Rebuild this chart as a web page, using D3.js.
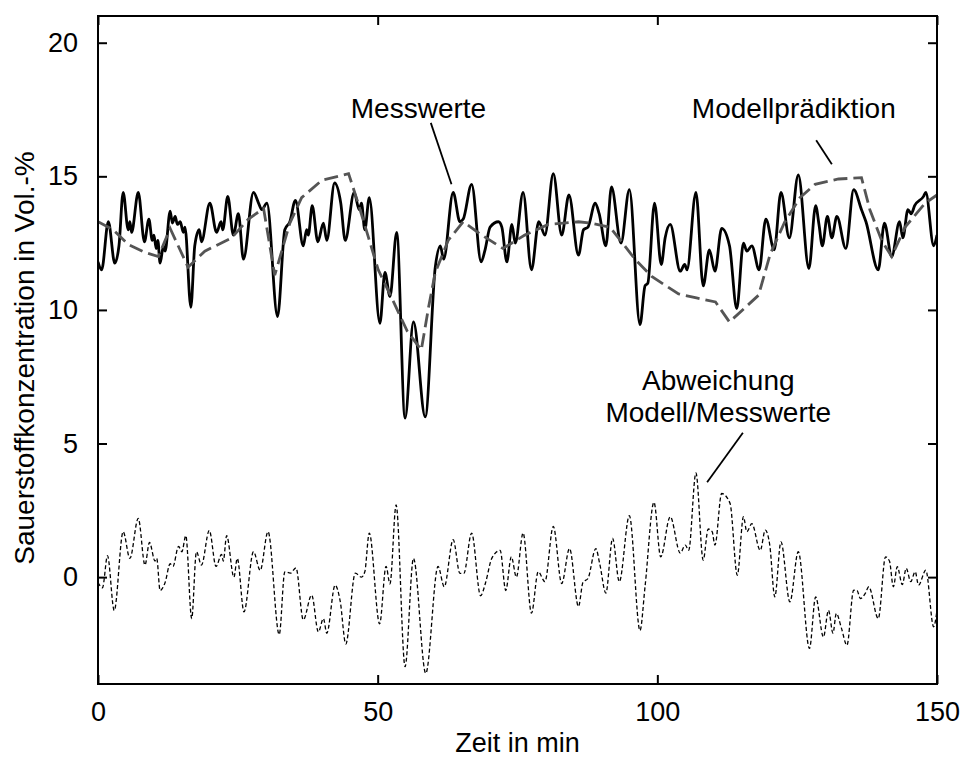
<!DOCTYPE html>
<html>
<head>
<meta charset="utf-8">
<script src="https://cdn.jsdelivr.net/npm/d3@7"></script>
<style>
  body { margin: 0; background: #fff; }
  svg text { font-family: "Liberation Sans", Arial, Helvetica, sans-serif; fill: #000; }
</style>
</head>
<body>
<svg id="chart" width="964" height="760"></svg>
<script>
// Messwerte (solid black line): time in min, O2 in Vol.-%
const measT = [0, 0.65, 1.85, 3.0, 3.75, 4.5, 5.4, 5.7, 6.0, 7.2, 8.3, 9.1, 9.7, 10.0, 10.4, 10.7, 11.1, 11.7, 12.0, 12.9,
  13.3, 13.8, 14.2, 14.7, 15.25, 15.55, 16.6, 17.3, 18.1, 18.5, 20.0, 21.2, 22.0, 22.3, 23.2, 24.2, 25.1, 26.0, 27.8, 28.7,
  29.3, 30.2, 32.1, 33.4, 34.3, 35.3, 36.7, 37.3, 37.6, 38.3, 39.3, 40.3, 40.9, 42.3, 43.4, 44.2, 45.8, 46.7, 47.1, 47.7,
  48.5, 50.4, 51.3, 52.2, 53.4, 54.9, 56.4, 58.5, 60.3, 61.2, 61.8, 63.5, 64.7, 65.3, 66.8, 68.5, 69.2, 70.1, 71.6, 72.2,
  73.1, 74.0, 74.6, 76.0, 77.5, 78.8, 79.9, 81.4, 82.9, 84.2, 85.9, 86.8, 87.6, 88.9, 89.6, 90.8, 91.8, 93.5, 95.0, 96.9,
  97.8, 98.3, 99.5, 100.7, 101.4, 102.3, 104.1, 104.9, 105.3, 106.9, 108.2, 109.3, 110.3, 111.5, 112.9, 114.2, 115.4, 116.0, 116.9, 118.2,
  119.4, 120.9, 122.1, 123.6, 125.2, 127.1, 128.3, 128.9, 129.5, 130.4, 131.2, 132.1, 133.7, 135.1, 136.5, 137.3, 139.5, 140.6, 141.9, 143.3,
  143.9, 144.8, 145.4, 146.0, 147.6, 148.0, 149.4, 150];
const measV = [11.8, 11.5, 13.3, 11.75, 12.4, 14.4, 13.0, 13.3, 12.9, 14.4, 12.55, 13.4, 12.6, 12.8, 12.3, 12.6, 11.75, 12.4, 12.2, 13.7,
  13.25, 13.5, 13.2, 13.3, 12.9, 13.1, 10.1, 12.4, 13.0, 12.55, 14.0, 12.9, 13.3, 13.0, 14.25, 12.8, 13.6, 11.9, 14.4, 14.0,
  13.75, 14.0, 9.75, 13.0, 13.3, 14.1, 12.4, 13.0, 12.8, 13.9, 12.55, 13.25, 12.6, 14.75, 14.0, 12.6, 14.4, 13.75, 14.0, 13.0,
  14.2, 9.5, 11.4, 10.5, 12.9, 5.95, 9.55, 6.0, 11.6, 12.4, 11.9, 14.4, 13.3, 13.4, 14.7, 11.8, 12.25, 13.1, 13.3, 13.1,
  11.8, 13.2, 12.5, 14.4, 11.5, 13.3, 12.8, 15.1, 12.8, 14.3, 12.05, 13.0, 13.1, 14.0, 13.6, 12.4, 14.6, 12.5, 14.5, 9.45,
  10.9, 11.0, 14.0, 11.7, 12.7, 13.2, 11.45, 11.7, 11.5, 14.4, 10.9, 12.25, 11.45, 13.05, 12.4, 10.05, 12.5, 12.2, 12.4, 11.5,
  13.4, 12.25, 14.4, 12.7, 15.05, 11.55, 13.9, 13.2, 12.4, 13.5, 12.7, 13.5, 12.3, 14.5, 13.75, 13.3, 11.5, 13.25, 12.0, 13.3,
  12.7, 13.75, 13.6, 13.9, 14.25, 14.4, 12.4, 12.8];

// Modellprädiktion (grey dashed line)
const modelT = [0, 2.7, 5.4, 8.4, 10.8, 12.9, 16.1, 19.1, 23.9, 26.9, 29.6, 31.6, 34.3, 36.4, 40.0, 44.8, 46.5, 48.3, 50.1, 52.4,
  55.3, 57.8, 59.1, 60.3, 62.6, 65.3, 68.6, 72.4, 76.3, 80.5, 85.9, 88.0, 91.5, 93.6, 96.0, 99.0, 103.8, 107.0, 110.4, 112.9,
  118.1, 120.2, 122.8, 125.5, 128.2, 132.4, 136.5, 138.0, 140.1, 141.9, 144.3, 147.9, 150];
const modelV = [13.3, 13.0, 12.45, 12.15, 12.0, 13.05, 11.6, 12.2, 12.7, 13.4, 13.8, 11.3, 13.25, 14.2, 14.85, 15.1, 14.0, 12.75, 11.5, 10.5,
  9.2, 8.5, 10.1, 11.4, 12.6, 13.3, 12.8, 12.3, 12.8, 13.2, 13.3, 13.25, 13.1, 12.55, 11.9, 11.25, 10.6, 10.45, 10.3, 9.55,
  10.55, 12.1, 13.3, 14.2, 14.7, 14.9, 14.95, 13.75, 12.6, 12.0, 13.1, 14.0, 14.3];

// Abweichung Modell/Messwerte (black dotted line)
const devT = [0, 0.8, 1.7, 2.9, 4.5, 5.7, 7.2, 8.4, 9.2, 10.2, 10.5, 11.1, 12.0, 12.9, 13.4, 14.4, 15.0, 15.7, 16.75, 17.6,
  18.5, 19.9, 21.1, 22.1, 22.4, 23.0, 24.3, 24.9, 26.1, 27.8, 29.0, 30.4, 32.4, 33.4, 34.4, 35.4, 36.7, 38.2, 39.4, 40.3,
  40.9, 42.4, 43.3, 44.3, 46.0, 47.1, 47.7, 48.5, 50.35, 51.5, 52.2, 53.3, 54.9, 56.4, 58.6, 60.8, 61.9, 63.5, 64.7, 65.4,
  66.8, 68.4, 69.3, 70.4, 71.9, 72.9, 73.9, 74.8, 76.0, 77.5, 78.7, 79.9, 81.4, 82.9, 84.3, 85.9, 86.7, 87.6, 89.0, 89.7,
  90.8, 92.0, 93.2, 95.0, 96.9, 97.8, 99.4, 100.6, 102.3, 104.1, 105.0, 105.6, 106.9, 108.2, 109.1, 109.8, 110.3, 111.5, 113.0, 114.3,
  115.4, 116.0, 116.9, 118.4, 119.3, 120.1, 121.0, 122.1, 123.7, 125.2, 127.2, 128.3, 129.7, 130.6, 131.4, 132.0, 132.9, 133.9, 135.1, 135.7,
  136.3, 137.2, 137.8, 139.5, 140.8, 141.5, 142.2, 142.9, 143.8, 144.5, 145.3, 146.1, 146.7, 148.0, 149.4, 150];
const devV = [-0.2, -0.4, 0.8, -1.25, 1.7, 0.7, 2.2, 0.45, 1.3, 0.6, 0.7, -0.5, -0.2, 0.5, 0.4, 1.15, 0.95, 1.55, -1.55, 0.95,
  0.45, 1.75, 0.4, 0.85, 0.6, 1.55, 0.0, 0.7, -1.3, 0.95, 0.25, 1.7, -2.15, 0.2, 0.15, 0.35, -1.6, -0.67, -2.05, -1.55,
  -2.1, -0.3, -0.9, -2.5, 0.15, 0.0, 0.2, 1.65, -1.75, 0.4, -0.25, 2.7, -3.35, 0.7, -3.6, 0.4, -0.36, 1.4, 0.14, 0.14,
  1.65, -0.7, -0.2, 0.7, 1.0, -0.5, 0.76, 0.0, 1.65, -1.35, 0.2, -0.17, 1.9, -0.24, 1.07, -1.1, -0.2, -0.05, 1.07, 0.5,
  -0.6, 1.45, -0.17, 2.3, -2.0, -0.36, 2.8, 0.76, 2.26, 0.9, 1.2, 1.0, 3.9, 0.64, 1.8, 1.7, 1.2, 3.13, 2.76, 0.07,
  2.26, 1.7, 2.0, 1.0, 1.76, 1.2, -0.74, 1.32, -0.93, 0.95, -2.67, -0.74, -2.24, -1.24, -2.1, -1.36, -1.9, -2.55, -0.49, -0.5,
  -0.8, -0.6, -0.36, -1.55, 0.76, 0.6, -0.36, 0.39, -0.28, 0.33, -0.17, 0.2, -0.3, 0.26, -1.86, -1.24];

const xTicks = [0, 50, 100, 150];
const yTicks = [0, 5, 10, 15, 20];
const xTitle = 'Zeit in min';
const yTitle = 'Sauerstoffkonzentration in Vol.-%';

// annotations: label lines (t, v of baseline) and leader line endpoints in data units
const annoLabels = [
  { lines: ['Messwerte'], t: 57.3, v: 17.2 },
  { lines: ['Modellprädiktion'], t: 124.4, v: 17.2 },
  { lines: ['Abweichung', 'Modell/Messwerte'], t: 110.9, v: 7.0 }
];
const annoLeaders = [
  [[59.5, 17.0], [63.2, 14.7]],
  [[128.4, 16.35], [131.2, 15.45]],
  [[115.3, 5.4], [108.9, 3.55]]
];

const margin = { top: 16, right: 27, bottom: 76, left: 98 };
const width = 964;
const height = 760;

const svg = d3.select('#chart');
const x = d3.scaleLinear().domain([0, 150]).range([margin.left, width - margin.right]);
const y = d3.scaleLinear().domain([-4, 21]).range([height - margin.bottom, margin.top]);

const zip = (ts, vs) => ts.map((t, i) => [t, vs[i]]);

const line = d3.line()
  .x(d => x(d[0]))
  .y(d => y(d[1]))
  .curve(d3.curveMonotoneX);

// clip to plot box
svg.append('clipPath').attr('id', 'plotclip')
  .append('rect')
  .attr('x', x(0)).attr('y', y(21))
  .attr('width', x(150) - x(0)).attr('height', y(-4) - y(21));

const plot = svg.append('g').attr('clip-path', 'url(#plotclip)');

plot.append('path')
  .datum(zip(devT, devV))
  .attr('d', line)
  .attr('fill', 'none')
  .attr('stroke', '#000')
  .attr('stroke-width', 1.3)
  .attr('stroke-dasharray', '4,2.5');

plot.append('path')
  .datum(zip(measT, measV))
  .attr('d', line)
  .attr('fill', 'none')
  .attr('stroke', '#000')
  .attr('stroke-width', 2.8)
  .attr('stroke-linejoin', 'round');

plot.append('path')
  .datum(zip(modelT, modelV))
  .attr('d', line.curve(d3.curveLinear))
  .attr('fill', 'none')
  .attr('stroke', '#555')
  .attr('stroke-width', 2.8)
  .attr('stroke-dasharray', '14,6');

// axes, ticks pointing inward on all four sides
const fontSize = 27;
const bottomAxis = d3.axisBottom(x).tickValues(xTicks).tickSizeInner(-9).tickSizeOuter(0).tickPadding(18);
const topAxis = d3.axisTop(x).tickValues(xTicks).tickSizeInner(-9).tickSizeOuter(0).tickFormat('');
const leftAxis = d3.axisLeft(y).tickValues(yTicks).tickSizeInner(-9).tickSizeOuter(0).tickPadding(20);
const rightAxis = d3.axisRight(y).tickValues(yTicks).tickSizeInner(-9).tickSizeOuter(0).tickFormat('');

const styleAxis = g => {
  g.select('.domain').remove();
  g.selectAll('.tick line').attr('stroke', '#000').attr('stroke-width', 2);
  g.selectAll('.tick text')
    .style('font-family', '"Liberation Sans", Arial, Helvetica, sans-serif')
    .style('font-size', `${fontSize}px`)
    .attr('fill', '#000');
};

svg.append('g').attr('transform', `translate(0,${y(-4)})`).call(bottomAxis).call(styleAxis);
svg.append('g').attr('transform', `translate(0,${y(21)})`).call(topAxis).call(styleAxis);
svg.append('g').attr('transform', `translate(${x(0)},0)`).call(leftAxis).call(styleAxis);
svg.append('g').attr('transform', `translate(${x(150)},0)`).call(rightAxis).call(styleAxis);

svg.append('rect')
  .attr('x', x(0)).attr('y', y(21))
  .attr('width', x(150) - x(0)).attr('height', y(-4) - y(21))
  .attr('fill', 'none')
  .attr('stroke', '#000')
  .attr('stroke-width', 2);

// axis titles
svg.append('text')
  .attr('x', (x(0) + x(150)) / 2)
  .attr('y', height - 8)
  .attr('text-anchor', 'middle')
  .style('font-size', `${fontSize}px`)
  .text(xTitle);

svg.append('text')
  .attr('transform', `translate(34,${(y(-4) + y(21)) / 2 + 8}) rotate(-90)`)
  .attr('text-anchor', 'middle')
  .style('font-size', '28px')
  .text(yTitle);

// annotations
annoLabels.forEach(a => {
  const txt = svg.append('text')
    .attr('text-anchor', 'middle')
    .style('font-size', '28px');
  a.lines.forEach((l, i) => {
    txt.append('tspan')
      .attr('x', x(a.t))
      .attr('y', y(a.v) + i * 32)
      .text(l);
  });
});

svg.selectAll('.leader')
  .data(annoLeaders)
  .join('line')
  .attr('class', 'leader')
  .attr('x1', d => x(d[0][0])).attr('y1', d => y(d[0][1]))
  .attr('x2', d => x(d[1][0])).attr('y2', d => y(d[1][1]))
  .attr('stroke', '#000')
  .attr('stroke-width', 1.8);
</script>
</body>
</html>
